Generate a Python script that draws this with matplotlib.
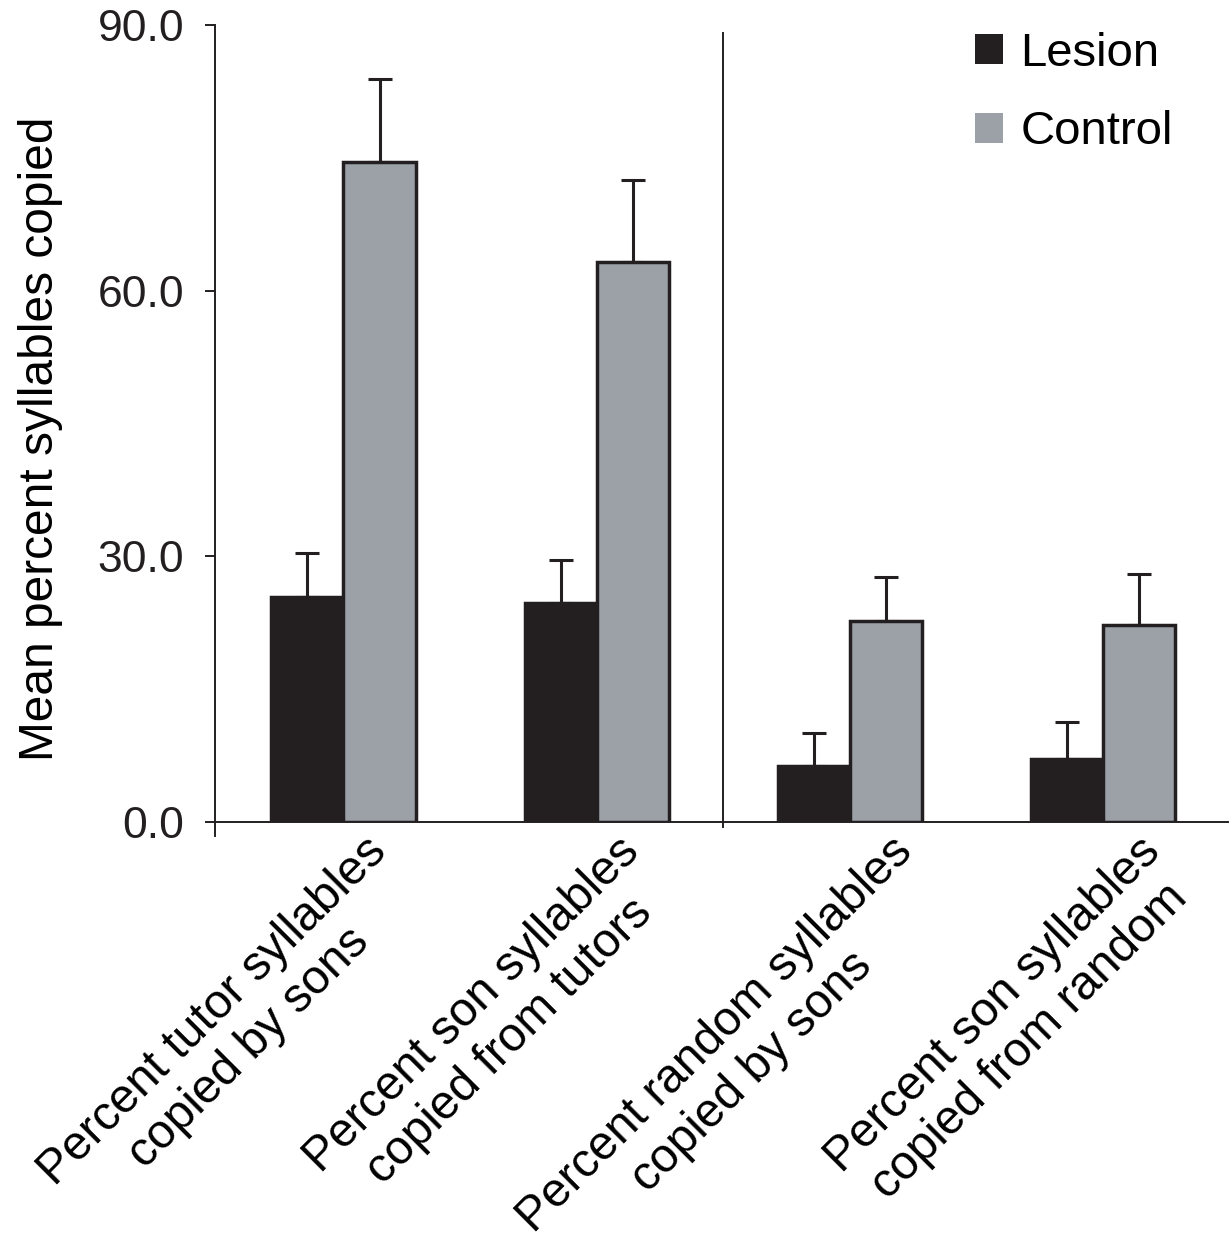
"""Bar chart: lesion vs control syllable copying."""

import matplotlib
matplotlib.use("Agg")
import matplotlib.pyplot as plt
import numpy as np
from matplotlib.patches import Patch
from matplotlib.ticker import FormatStrFormatter
from matplotlib.transforms import ScaledTranslation

plt.rcParams["font.family"] = ["Liberation Sans", "DejaVu Sans"]

CATEGORIES = [
    "Percent tutor syllables\ncopied by sons",
    "Percent son syllables\ncopied from tutors",
    "Percent random syllables\ncopied by sons",
    "Percent son syllables\ncopied from random",
]
LESION_MEAN = [25.4, 24.7, 6.3, 7.1]
LESION_ERR = [5.0, 4.9, 3.7, 4.2]
CONTROL_MEAN = [74.5, 63.2, 22.7, 22.2]
CONTROL_ERR = [9.4, 9.3, 5.0, 5.8]
Y_TICKS = [0, 30, 60, 90]

DARK = "#231f20"
GREY = "#9ca1a8"
W = 0.285
LABEL_SHIFT = [0.20, 0.20, 0.40, 0.34]  # inches, nudges rotated labels right

fig = plt.figure(figsize=(12.32, 12.36), dpi=100)
ax = fig.add_axes([0.1745, 0.335, 0.8222, 0.6448])

x = np.arange(len(CATEGORIES))
ax.bar(x - W / 2, LESION_MEAN, W, color=DARK, edgecolor=DARK, linewidth=2.5, zorder=3)
ax.bar(x + W / 2, CONTROL_MEAN, W, color=GREY, edgecolor=DARK, linewidth=2.5, zorder=3)
for offs, mean, err in [(-W / 2, LESION_MEAN, LESION_ERR), (W / 2, CONTROL_MEAN, CONTROL_ERR)]:
    ax.errorbar(x + offs, mean, yerr=[np.zeros(len(err)), err], fmt="none",
                ecolor=DARK, elinewidth=2.2, capsize=8.5, capthick=2.2, zorder=2)

# divider between the two pairs of groups
ax.axvline(1.5, ymin=-0.006, ymax=0.99, color=DARK, linewidth=1.4, clip_on=False)

ax.set_xlim(-0.5075, 3.493)
ax.set_ylim(0, 90)
ax.set_yticks(Y_TICKS)
ax.yaxis.set_major_formatter(FormatStrFormatter("%.1f"))
ax.tick_params(axis="y", direction="out", length=7.2, width=1.4, pad=15,
               labelsize=32, colors=DARK)
ax.set_xticks(x)
ax.set_xticklabels(CATEGORIES, rotation=45, ha="right", va="top",
                   rotation_mode="anchor", multialignment="center", fontsize=34.5)
ax.tick_params(axis="x", length=0, pad=5)
for lab, dx in zip(ax.get_xticklabels(), LABEL_SHIFT):
    lab.set_transform(lab.get_transform() + ScaledTranslation(dx, 0, fig.dpi_scale_trans))

for side in ["top", "right"]:
    ax.spines[side].set_visible(False)
for side in ["left", "bottom"]:
    ax.spines[side].set_linewidth(1.4)
    ax.spines[side].set_color(DARK)
ax.spines["left"].set_bounds(-1.6, 90)

ax.set_ylabel("Mean percent syllables copied", fontsize=34.5)
ax.yaxis.set_label_coords(-0.150, 0.4806)

handles = [Patch(facecolor=DARK, edgecolor="none", label="Lesion"),
           Patch(facecolor=GREY, edgecolor="none", label="Control")]
fig.legend(handles=handles, loc="upper left", bbox_to_anchor=(975 / 1232, 1 - 32 / 1236),
           frameon=False, fontsize=34, handlelength=0.6, handleheight=0.6,
           handletextpad=0.36, labelspacing=0.73, borderpad=0, borderaxespad=0)

fig.savefig("out.png", dpi=100)
plt.close(fig)
